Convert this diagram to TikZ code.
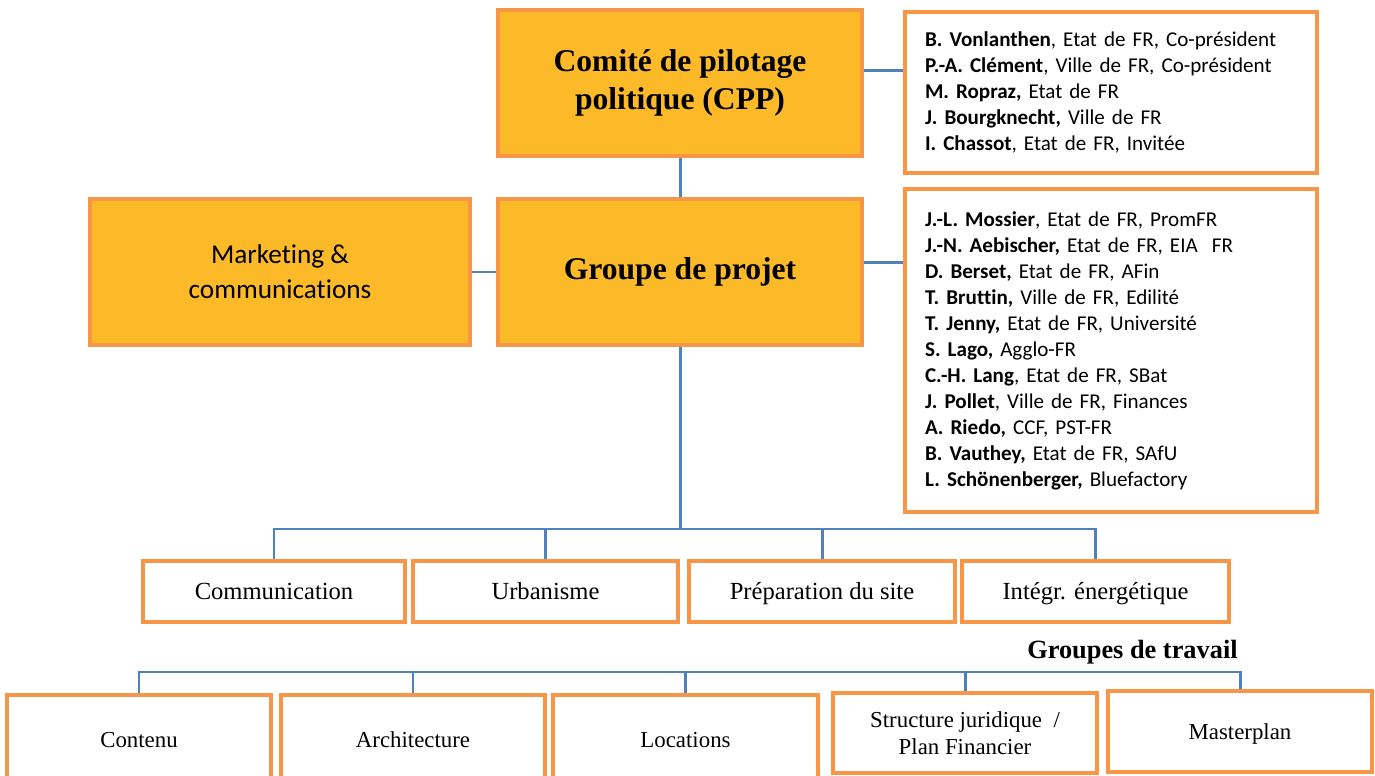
\documentclass[tikz,border=0pt]{standalone}
\usepackage{fontspec}
\setmainfont{Liberation Serif}
\newfontfamily\calib[RawFeature={-liga;-clig;-calt;-dlig}]{Carlito}
\definecolor{boxorange}{RGB}{247,150,70}
\definecolor{boxgold}{RGB}{252,186,40}
\definecolor{linkblue}{RGB}{79,129,189}
\newcommand{\nm}[1]{\textbf{#1}}
\tikzset{
  titlebox/.style={draw=boxorange,fill=boxgold,line width=2.6pt,minimum height=2.92cm,align=center},
  listbox/.style={draw=boxorange,fill=white,line width=2.6pt,text width=7.44cm,inner xsep=0.4cm,align=left,
    font=\calib\fontsize{12}{14.8}\selectfont},
  oneline/.style={text height=2ex,text depth=.1ex},
  groupbox/.style={draw=boxorange,fill=white,line width=2.6pt,minimum height=1.22cm,oneline,font=\fontsize{14}{16}\selectfont},
  workbox/.style={draw=boxorange,fill=white,line width=2.6pt,minimum width=5.28cm,minimum height=1.6cm,align=center,
    font=\fontsize{13}{15.5}\selectfont},
  link/.style={draw=linkblue,line width=1.7pt}
}
\begin{document}
\begin{tikzpicture}[x=0.02cm,y=-0.02cm]
            \useasboundingbox (0,0) rectangle (1375,776);
            \clip (0,0) rectangle (1375,776);
            % comite and groupe de projet
            \begin{scope}[every node/.style={titlebox}]
                \node[minimum width=7.28cm,font=\bfseries\fontsize{18}{21.6}\selectfont] (cpp) at (680,83) {Comité de pilotage\\politique (CPP)};
                \node[minimum width=7.28cm,font=\bfseries\fontsize{18}{21.6}\selectfont] (gdp) at (680,272) {Groupe de projet};
                \node[minimum width=7.6cm,font=\calib\fontsize{15.5}{20}\selectfont] (mkt) at (280,272) {Marketing \&\\communications};
            \end{scope}
            % membres
            \node[listbox,minimum height=3.22cm] (cppm) at (1111,92.5) {%
                \nm{B. Vonlanthen}, Etat de FR, Co-président\\
                \nm{P.-A. Clément}, Ville de FR, Co-président\\
                \nm{M. Ropraz,} Etat de FR\\
                \nm{J. Bourgknecht,} Ville de FR\\
                \nm{I. Chassot}, Etat de FR, Invitée};
            \node[listbox,minimum height=6.46cm] (gdpm) at (1111,350.5) {%
                \nm{J.-L. Mossier}, Etat de FR, PromFR\\
                \nm{J.-N. Aebischer,} Etat de FR, EIA\ \ FR\\
                \nm{D. Berset,} Etat de FR, AFin\\
                \nm{T. Bruttin,} Ville de FR, Edilité\\
                \nm{T. Jenny,} Etat de FR, Université\\
                \nm{S. Lago,} Agglo-FR\\
                \nm{C.-H. Lang}, Etat de FR, SBat\\
                \nm{J. Pollet}, Ville de FR, Finances\\
                \nm{A. Riedo,} CCF, PST-FR\\
                \nm{B. Vauthey,} Etat de FR, SAfU\\
                \nm{L. Schönenberger,} Bluefactory};
            % groupes
            \begin{scope}[every node/.style={groupbox}]
                \node[minimum width=5.24cm] (com) at (274,591.5) {Communication};
                \node[minimum width=5.3cm] (urb) at (545.5,591.5) {Urbanisme};
                \node[minimum width=5.32cm] (prep) at (822,591.5) {Préparation du site};
                \node[minimum width=5.34cm] (integ) at (1095.5,591.5) {Intégr. énergétique};
            \end{scope}
            % groupes de travail
            \begin{scope}[every node/.style={workbox}]
                \node[oneline,minimum height=1.8cm] (cont) at (139,740) {Contenu};
                \node[oneline,minimum height=1.8cm] (arch) at (413,740) {Architecture};
                \node[oneline,minimum height=1.8cm,minimum width=5.3cm] (loc) at (685.5,740) {Locations};
                \node (struct) at (965,733) {Structure juridique\ \ /\\Plan Financier};
                \node[oneline,minimum height=1.62cm] (master) at (1240,731.5) {Masterplan};
            \end{scope}
            \node[anchor=south east,inner sep=0pt,font=\bfseries\fontsize{15}{18}\selectfont] (gdt) at (1238,664) {Groupes de travail};
            \coordinate (bus1) at (675,529);
            \coordinate (bus2) at (676,672);
            \begin{scope}[every path/.style={link}]
                \draw (cpp.south) -- (gdp.north);
                \draw (mkt.east) -- (gdp.west);
                \draw (cpp.4) -- (cpp.4 -| cppm.west);
                \draw (gdp.3) -- (gdp.3 -| gdpm.west);
                \draw (gdp.south) -- (gdp.south |- bus1);
                \draw (com.north) |- (bus1) -| (integ.north);
                \draw (urb.north) -- (urb.north |- bus1);
                \draw (prep.north) -- (prep.north |- bus1);
                \draw (cont.north) |- (bus2) -| (master.north);
                \draw (arch.north) -- (arch.north |- bus2);
                \draw (loc.north) -- (loc.north |- bus2);
                \draw (struct.north) -- (struct.north |- bus2);
            \end{scope}
        \end{tikzpicture}
\end{document}
